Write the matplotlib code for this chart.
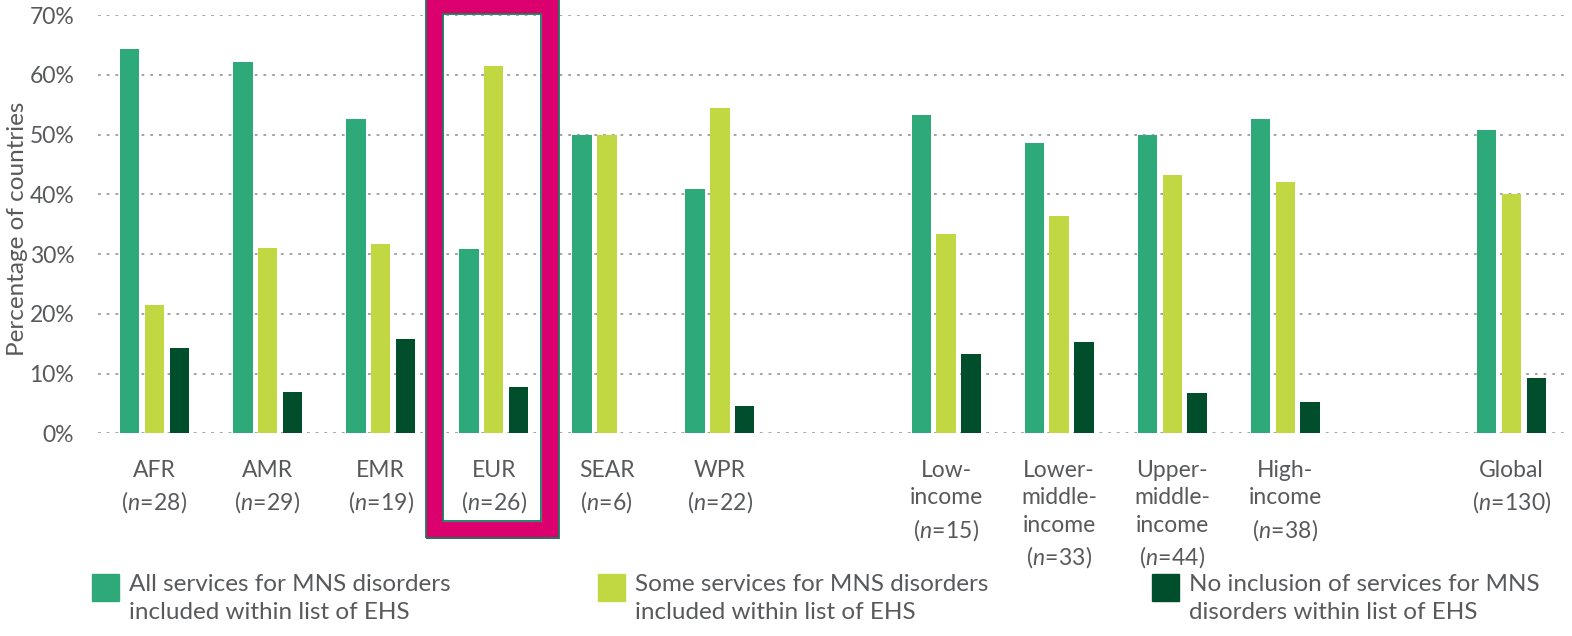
import matplotlib
matplotlib.use("Agg")
import matplotlib.pyplot as plt
from matplotlib.patches import Rectangle
import numpy as np

plt.rcParams['font.family'] = ['Lato', 'DejaVu Sans']
plt.rcParams['mathtext.fontset'] = 'custom'
plt.rcParams['mathtext.rm'] = 'Lato'
plt.rcParams['mathtext.it'] = 'Lato:italic'

# categories, with the n of countries
names = ["AFR", "AMR", "EMR", "EUR", "SEAR", "WPR",
         "Low-\nincome", "Lower-\nmiddle-\nincome", "Upper-\nmiddle-\nincome", "High-\nincome",
         "Global"]
n_countries = [28, 29, 19, 26, 6, 22, 15, 33, 44, 38, 130]

# percentage of countries
all_services = [64.3, 62.1, 52.6, 30.8, 50.0, 40.9, 53.3, 48.5, 50.0, 52.6, 50.8]
some_services = [21.4, 31.0, 31.6, 61.5, 50.0, 54.5, 33.3, 36.4, 43.2, 42.1, 40.0]
no_inclusion = [14.3, 6.9, 15.8, 7.7, 0.0, 4.5, 13.3, 15.2, 6.8, 5.3, 9.2]

series_names = ["All services for MNS disorders\nincluded within list of EHS",
                "Some services for MNS disorders\nincluded within list of EHS",
                "No inclusion of services for MNS\ndisorders within list of EHS"]
yticks = [0, 10, 20, 30, 40, 50, 60, 70]

c_all = "#2eaa7a"
c_some = "#c1d843"
c_none = "#004e2b"
grey = "#58595b"
pink = "#db006e"
teal = "#1b7a5c"

# regions, gap, income groups, gap, global
xpos = np.array(list(range(6)) + list(range(7, 11)) + [12])

fig = plt.figure(figsize=(15.72, 6.36), dpi=100)
ax = fig.add_axes([0.0623, 0.3187, 0.9352, 0.6577])

w = 0.172
off = 0.219
ax.bar(xpos - off, all_services, w, color=c_all, zorder=3)
ax.bar(xpos, some_services, w, color=c_some, zorder=3)
ax.bar(xpos + off, no_inclusion, w, color=c_none, zorder=3)

ax.set_xlim(-0.5, 12.5)
ax.set_ylim(0, 70)
ax.set_yticks(yticks)
ax.set_yticklabels([f"{v}%" for v in yticks])
for v in yticks:
    ax.axhline(v, color="#8a8a8a", lw=1.1, ls=(0, (1.8, 3.9)), zorder=1)
for s in ax.spines.values():
    s.set_visible(False)
ax.tick_params(axis="y", length=0, pad=17, labelsize=16.5, labelcolor=grey)
ax.tick_params(axis="x", length=0, pad=19, labelsize=16.5, labelcolor=grey)

labels = [f"{nm}\n(" + r"$\mathit{n\!=\!" + str(n) + r"}$" + ")" for nm, n in zip(names, n_countries)]
ax.set_xticks(xpos)
ax.set_xticklabels(labels, linespacing=1.4, va="top")

ax.set_ylabel("Percentage of countries", fontsize=17.5, color=grey)
ax.yaxis.set_label_coords(-0.0475, 0.49)

# highlight box round EUR
i_eur = names.index("EUR")
box = Rectangle((xpos[i_eur] - 0.527, -16.1), 1.021, 87.7, fill=False,
                ec=pink, lw=12.2, clip_on=False, zorder=5)
ax.add_patch(box)
ax.add_patch(Rectangle((xpos[i_eur] - 0.602, -17.5), 1.176, 90.5, fill=False,
                       ec=teal, lw=1.3, clip_on=False, zorder=6))
ax.add_patch(Rectangle((xpos[i_eur] - 0.452, -14.7), 0.871, 84.9, fill=False,
                       ec=teal, lw=1.3, clip_on=False, zorder=6))

# legend
leg_x = [92 / 1572, 598 / 1572, 1152 / 1572]
for lx, col, txt in zip(leg_x, [c_all, c_some, c_none], series_names):
    fig.patches.append(Rectangle((lx, 1 - 601 / 636), 27 / 1572, 27 / 636,
                                 transform=fig.transFigure, color=col, figure=fig))
    fig.text(lx + 37 / 1572, 1 - 574 / 636, txt, fontsize=17.5, color=grey,
             va="top", ha="left", linespacing=1.4)

fig.savefig("out.png", dpi=100)
